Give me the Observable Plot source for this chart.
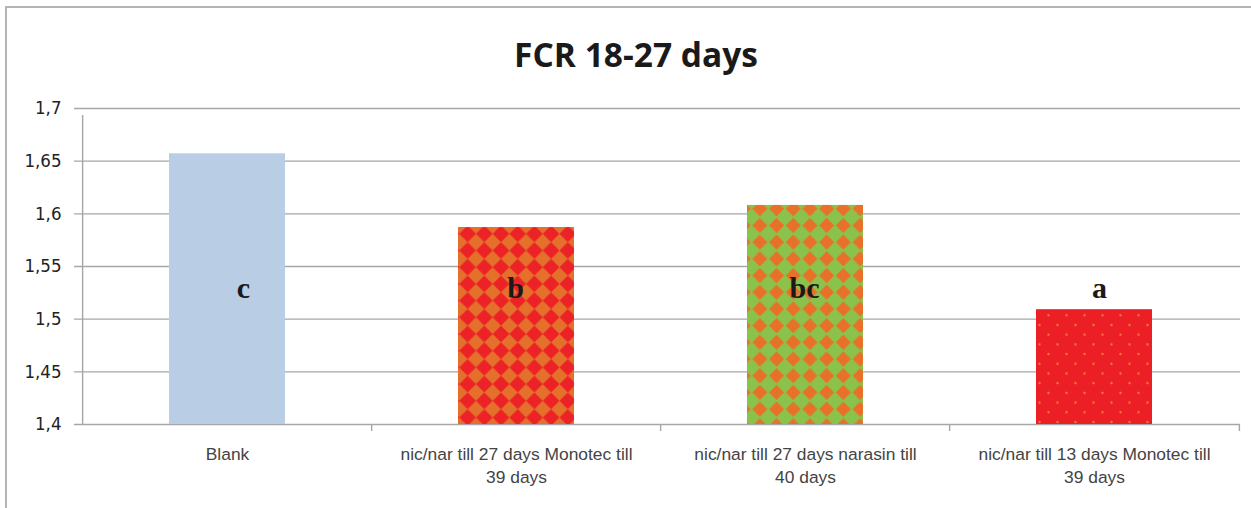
<!DOCTYPE html>
<html>
<head>
<meta charset="utf-8">
<script src="https://cdn.jsdelivr.net/npm/d3@7"></script>
<script src="https://cdn.jsdelivr.net/npm/@observablehq/plot@0.6"></script>
<style>
  html, body { margin: 0; padding: 0; background: #fff; }
  #wrap { position: relative; width: 1251px; height: 508px; overflow: hidden; }
  #border { position: absolute; left: 5px; top: 6px; width: 1300px; height: 600px;
            border-top: 2px solid #B4B4B4; border-left: 2px solid #B4B4B4; pointer-events: none; }
  #title { position: absolute; left: 0; top: 29px; width: 1272px; text-align: center;
           font-family: "Open Sans", "Liberation Sans", sans-serif; font-weight: 700;
           font-size: 33.5px; color: #1a1a1a; line-height: 50px; }
  svg { position: absolute; left: 0; top: 0; }
</style>
</head>
<body>
<div id="wrap">
  <div id="border"></div>
  <div id="title">FCR 18-27 days</div>
</div>
<script>
// ---- data ----
const categories = [
  "Blank",
  "nic/nar till 27 days Monotec till 39 days",
  "nic/nar till 27 days narasin till 40 days",
  "nic/nar till 13 days Monotec till 39 days"
];
const fcr = [1.657, 1.587, 1.608, 1.509];
const letters = ["c", "b", "bc", "a"];
const yTicks = [1.4, 1.45, 1.5, 1.55, 1.6, 1.65, 1.7];

// ---- layout ----
const W = 1251, H = 508, ML = 81, MR = 11, MT = 108, MB = 84;
const step = (W - ML - MR) / categories.length;
const idx = categories.map((_, i) => i);

const chart = Plot.plot({
  width: W, height: H,
  marginLeft: ML, marginRight: MR, marginTop: MT, marginBottom: MB,
  style: { fontFamily: "'Liberation Sans', Arial, sans-serif", background: "transparent" },
  x: { domain: categories, paddingInner: 0.6, paddingOuter: 0.3, axis: null },
  y: { domain: [1.4, 1.7], axis: null },
  color: { domain: categories, range: ["#B9CDE5", "url(#diamondRed)", "url(#diamondGreen)", "url(#dotsRed)"] },
  marks: [
    // grid lines (extended left to form the y ticks)
    Plot.ruleY(yTicks, { stroke: "#A6A6A6", strokeWidth: 1.4, insetLeft: -7 }),
    // bars
    Plot.barY(idx, { x: i => categories[i], y1: 1.4, y2: i => fcr[i], fill: i => categories[i] }),
    // y axis line
    Plot.ruleX([categories[0]], { x: d => d, y1: 1.4, y2: 1.7, insetBottom: -7, dx: -step / 2, stroke: "#A6A6A6", strokeWidth: 1.4 }),
    // x ticks at category boundaries
    Plot.ruleX(categories.slice(1), { x: d => d, y1: 1.4, y2: 1.4, insetBottom: -7, dx: -step / 2, stroke: "#A6A6A6", strokeWidth: 1.4 }),
    Plot.ruleX([categories[categories.length - 1]], { x: d => d, y1: 1.4, y2: 1.4, insetBottom: -7, dx: step / 2, stroke: "#A6A6A6", strokeWidth: 1.4 }),
    // y tick labels
    Plot.axisY({
      ticks: yTicks, tickSize: 0, tickPadding: 20,
      tickFormat: d => String(d).replace(".", ","),
      fontSize: 18.5, fill: "#222", fontFamily: "'Liberation Sans Narrow', 'DejaVu Sans Condensed', sans-serif"
    }),
    // x tick labels
    Plot.axisX({
      tickSize: 0, tickPadding: 19, lineHeight: 1.32,
      tickFormat: d => d.replace(/ (\d+ days)$/, "\n$1"),
      fontSize: 17.4, fill: "#444", fontFamily: "'Liberation Sans', Arial, sans-serif"
    }),
    // significance letters
    Plot.text(idx.filter(i => letters[i] === "c"), {
      x: i => categories[i], y: 1.52, text: i => letters[i], lineAnchor: "bottom", dx: 16,
      fontFamily: "'Liberation Serif', 'Times New Roman', serif", fontWeight: "bold", fontSize: 30, fill: "#1a1a1a"
    }),
    Plot.text(idx.filter(i => letters[i] === "b" || letters[i] === "bc"), {
      x: i => categories[i], y: 1.52, text: i => letters[i], lineAnchor: "bottom", dx: -1,
      fontFamily: "'Liberation Serif', 'Times New Roman', serif", fontWeight: "bold", fontSize: 30, fill: "#1a1a1a"
    }),
    Plot.text(idx.filter(i => letters[i] === "a"), {
      x: i => categories[i], y: 1.52, text: i => letters[i], lineAnchor: "bottom", dx: 5,
      fontFamily: "'Liberation Serif', 'Times New Roman', serif", fontWeight: "bold", fontSize: 30, fill: "#1a1a1a"
    })
  ]
});

// pattern definitions used by the colour scale
const P = 16.7, h = P / 2;
chart.insertAdjacentHTML("afterbegin", `
<defs>
  <pattern id="diamondRed" patternUnits="userSpaceOnUse" width="${P}" height="${P}">
    <rect width="${P}" height="${P}" fill="#EC2227"/>
    <polygon points="${h},0 ${P},${h} ${h},${P} 0,${h}" fill="#E5702B"/>
  </pattern>
  <pattern id="diamondGreen" patternUnits="userSpaceOnUse" width="${P}" height="${P}">
    <rect width="${P}" height="${P}" fill="#8BC24B"/>
    <polygon points="${h},0.8 ${P - 0.8},${h} ${h},${P - 0.8} 0.8,${h}" fill="#E8712A"/>
  </pattern>
  <pattern id="dotsRed" patternUnits="userSpaceOnUse" width="18" height="19.4">
    <rect width="18" height="19.4" fill="#EC1F26"/>
    <circle cx="4.5" cy="4.85" r="1.2" fill="#EE7A3A"/>
    <circle cx="13.5" cy="14.55" r="1.2" fill="#EE7A3A"/>
  </pattern>
</defs>`);

document.getElementById("wrap").prepend(chart);
</script>
</body>
</html>
